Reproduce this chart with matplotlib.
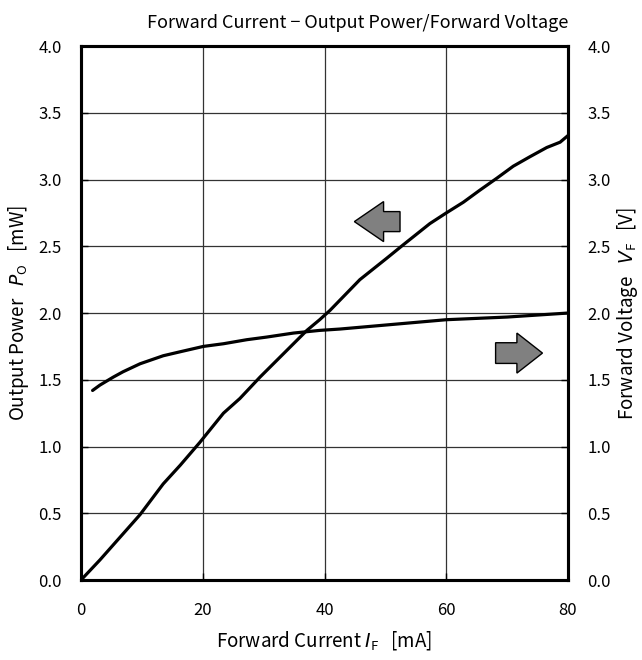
import matplotlib
matplotlib.use("Agg")
import matplotlib.pyplot as plt
from matplotlib.patches import FancyArrow

plt.rcParams['font.family'] = ['Noto Sans CJK JP', 'DejaVu Sans']
plt.rcParams['mathtext.fontset'] = 'custom'
plt.rcParams['mathtext.rm'] = 'Noto Sans CJK JP'
plt.rcParams['mathtext.it'] = 'DejaVu Sans:italic'

# Output power vs forward current
if_power = [0, 3.1, 6.4, 9.7, 13.5, 16.3, 19.5, 23.4, 26.1, 29.4, 32.7, 34.9, 37.1,
            39.2, 40.9, 45.8, 50.2, 52.9, 57.3, 60.0, 62.8, 65.5, 68.3, 71.0, 73.7,
            76.5, 78.7, 80.0]
power = [0.0, 0.15, 0.32, 0.49, 0.72, 0.86, 1.03, 1.25, 1.36, 1.52, 1.67, 1.77, 1.87,
         1.95, 2.02, 2.25, 2.41, 2.51, 2.67, 2.75, 2.83, 2.92, 3.01, 3.10, 3.17,
         3.24, 3.28, 3.33]

# Forward voltage vs forward current
if_volt = [1.9, 3.1, 5.3, 6.9, 9.7, 13.5, 16.3, 20.1, 23.4, 27.2, 30.5, 34.9, 39.2,
           42.5, 50.0, 60.0, 70.0, 80.0]
volt = [1.42, 1.46, 1.52, 1.56, 1.62, 1.68, 1.71, 1.75, 1.77, 1.80, 1.82, 1.85, 1.87,
        1.88, 1.91, 1.95, 1.97, 2.00]

x_ticks = [0, 20, 40, 60, 80]
y_ticks = [0.0, 0.5, 1.0, 1.5, 2.0, 2.5, 3.0, 3.5, 4.0]

fig = plt.figure(figsize=(6.42, 6.60), dpi=100)
ax = fig.add_axes([0.1262, 0.1212, 0.7586, 0.809])
ax2 = ax.twinx()

ax.plot(if_power, power, color='black', lw=2.3, solid_capstyle='round', zorder=3)
ax2.plot(if_volt, volt, color='black', lw=2.3, solid_capstyle='round', zorder=3)

for a in (ax, ax2):
    a.set_xlim(0, 80)
    a.set_ylim(0, 4.0)
    a.set_yticks(y_ticks)
    a.set_yticklabels([f"{v:.1f}" for v in y_ticks])
    for s in a.spines.values():
        s.set_linewidth(2.2)
        s.set_color('black')
    a.tick_params(direction='in', length=5, width=1, labelsize=12, pad=14)

ax.set_xticks(x_ticks)
ax.set_xticklabels([str(v) for v in x_ticks])
ax.tick_params(axis='x', pad=16)
ax.grid(True, color='#333333', lw=0.9)
ax.set_axisbelow(True)

ax.set_title('Forward Current − Output Power/Forward Voltage', fontsize=13, pad=13,
             x=0.569)
ax.set_xlabel(r'Forward Current $I_{\mathrm{F}}$   [mA]', fontsize=13.5, labelpad=7)
ax.set_ylabel(r'Output Power   $P_{\mathrm{O}}$   [mW]', fontsize=13.5, labelpad=5)
ax2.set_ylabel(r'Forward Voltage   $V_{\mathrm{F}}$   [V]', fontsize=13.5, labelpad=3,
               rotation=90)

# direction arrows
ax.add_patch(FancyArrow(52.4, 2.685, -7.5, 0, width=0.15, head_width=0.30,
                        head_length=4.8, length_includes_head=True,
                        facecolor='#808080', edgecolor='black', lw=1.0, zorder=4))
ax.add_patch(FancyArrow(68.1, 1.70, 7.7, 0, width=0.155, head_width=0.30,
                        head_length=4.2, length_includes_head=True,
                        facecolor='#808080', edgecolor='black', lw=1.0, zorder=4))

fig.savefig('out.png', dpi=100)
